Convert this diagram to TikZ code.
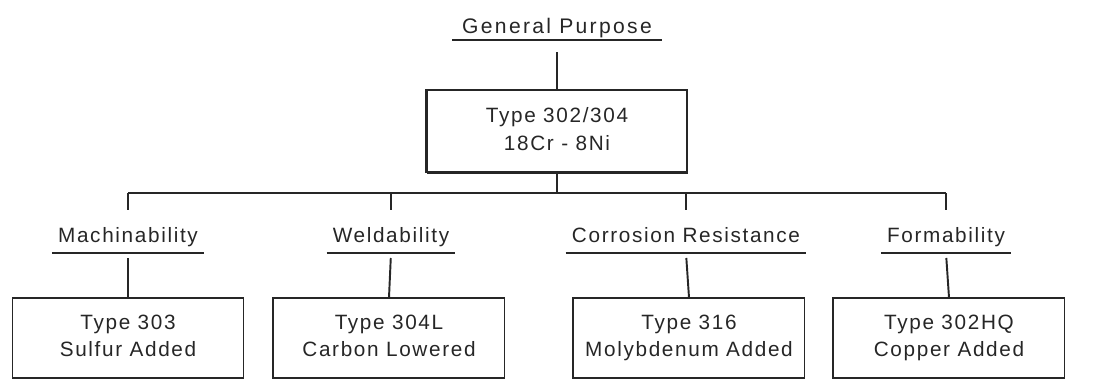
\documentclass[tikz,border=0pt]{standalone}
\usepackage{fontspec}
\setmainfont{Liberation Sans}[LetterSpace=8]

\begin{document}
\begin{tikzpicture}[
    x=0.02cm, y=-0.02cm,
    line width=1.1pt,
    color=black!85,
    % Style for the underlined headings
    heading/.style={anchor=south, font=\fontsize{11.8}{13}\selectfont,
        text height=8.5pt, text depth=2.6pt, inner xsep=3pt, inner ysep=2.8pt},
    % Style for the grade boxes
    typebox/.style={draw, line width=0.6pt, align=center,
        font=\fontsize{11.8}{15.8}\selectfont, minimum width=4.62cm, minimum height=1.6cm,
        execute at end node=\vphantom{y}}
]
    \path[use as bounding box, clip] (0,0) rectangle (1093,379);

    % ==========================
    % Top: General Purpose
    % ==========================
    \node[heading, font=\fontsize{12}{13}\addfontfeature{LetterSpace=11}, inner xsep=5pt, inner ysep=0.5pt]
        (gp) at (557,40) {General Purpose};
    \draw[line width=1.6pt] (gp.south west) -- (gp.south east);

    \node[typebox, minimum width=5.2cm, minimum height=1.64cm] (t304) at (557,131)
        {Type 302/304\\18Cr - 8Ni};
    \draw[line width=1.8pt] (t304.south west) -- (t304.south east);
    \draw[line width=1.2pt] (t304.south west) -- (t304.north west);

    \draw[shorten <=0.24cm] (gp.south) -- (t304.north);

    % ==========================
    % Middle: the four properties
    % ==========================
    \node[heading] (mach) at (128,253) {Machinability};
    \node[heading] (weld) at (391,253) {Weldability};
    \node[heading] (corr) at (686,253) {Corrosion Resistance};
    \node[heading] (form) at (946,253) {Formability};

    \foreach \n in {mach,weld,corr,form}
        \draw[line width=0.8pt] (\n.south west) -- (\n.south east);

    % bus line below the main box
    \coordinate (bus) at (557,193);
    \draw (t304.south) -- (bus);
    \draw (bus -| mach.north) -- (bus -| form.north);
    \foreach \n in {mach,weld,corr,form}
        \draw[shorten >=0.24cm] (bus -| \n.north) -- (\n.north);

    % ==========================
    % Bottom: the grade boxes
    % ==========================
    \node[typebox] (t303) at (128,338) {Type 303\\Sulfur Added};
    \node[typebox] (t304l) at (389,338) {Type 304L\\Carbon Lowered};
    \node[typebox] (t316) at (689,338) {Type 316\\Molybdenum Added};
    \node[typebox] (t302hq) at (949,338) {Type 302HQ\\Copper Added};

    % heavier left edges
    \draw[line width=1.6pt] (t304l.south west) -- (t304l.north west);
    \draw[line width=1.1pt] (t316.south west) -- (t316.north west);
    \draw[line width=1.6pt] (t302hq.south west) -- (t302hq.north west);

    \draw[shorten <=0.1cm] (mach.south) -- (t303.north);
    \draw[shorten <=0.1cm] (weld.south) -- (t304l.north);
    \draw[shorten <=0.1cm] (corr.south) -- (t316.north);
    \draw[shorten <=0.1cm] (form.south) -- (t302hq.north);

\end{tikzpicture}
\end{document}
